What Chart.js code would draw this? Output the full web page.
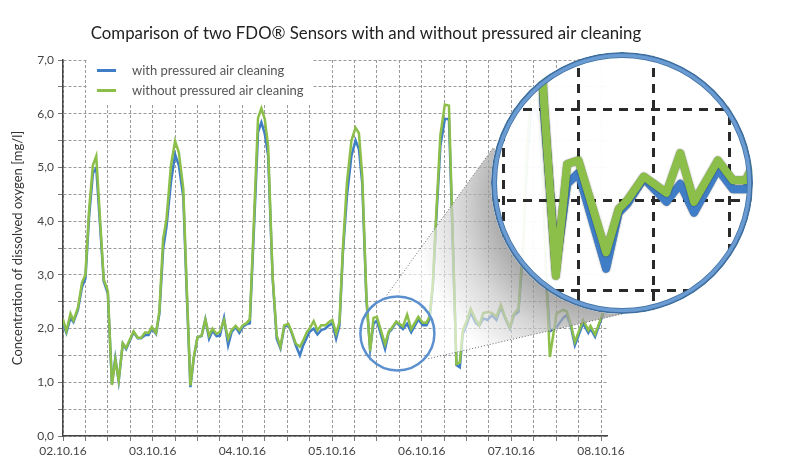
<!DOCTYPE html>
<html lang="en">
<head>
<meta charset="UTF-8">
<title>Comparison of two FDO Sensors</title>
<style>
    body { margin: 0; padding: 0; background: #fff; }
    #wrap { position: relative; width: 792px; height: 457px; }
    #main { position: absolute; left: 0; top: 0; }
    #lens {
        position: absolute; left: 491px; top: 52px;
        width: 262px; height: 262px;
        border-radius: 50%; overflow: hidden;
        background: rgba(255, 255, 255, 0.94);
    }
</style>
<script src="https://cdn.jsdelivr.net/npm/chart.js"></script>
</head>
<body>
<div id="wrap">
    <canvas id="main" width="792" height="457"></canvas>
    <div id="lens"><canvas id="zoom" width="262" height="262"></canvas></div>
</div>
<script>
// texts
const chartTitle = 'Comparison of two FDO\u00AE Sensors with and without pressured air cleaning';
const yTitle = 'Concentration of dissolved oxygen [mg/l]';
const seriesNames = ['with pressured air cleaning', 'without pressured air cleaning'];
const dateLabels = ['02.10.16', '03.10.16', '04.10.16', '05.10.16', '06.10.16', '07.10.16', '08.10.16'];

// hours since 02.10.16 00:00
const hours = [
    0, 0.9, 2.0, 2.8, 4.0, 5.1, 6.0, 7.0, 8.0, 8.9,
    9.8, 10.9, 12.0, 13.1, 14.0, 14.9, 16.0, 16.9, 17.9, 18.9,
    20.0, 20.9, 22.0, 22.9, 23.8, 24.9, 25.8, 26.8, 27.7, 28.9,
    30.0, 31.0, 32.2, 33.1, 34.1, 35.0, 36.0, 37.1, 38.1, 39.1,
    40.0, 41.1, 42.0, 43.1, 44.2, 45.1, 46.2, 47.2, 48.1, 49.1,
    50.0, 51.1, 52.2, 53.1, 54.0, 54.9, 56.1, 57.2, 58.2, 59.2,
    60.3, 61.2, 62.3, 63.4, 64.3, 65.3, 66.0, 67.1, 68.1, 69.1,
    70.2, 71.2, 72.1, 73.1, 74.0, 74.9, 76.0, 77.2, 78.3, 79.2,
    80.1, 81.2, 82.2, 83.1, 84.0, 86.2, 87.2, 87.9, 89.2, 91.0,
    92.1, 93.2, 95.1, 96.3, 97.3, 98.1, 99.0, 99.8, 101.0, 102.2,
    103.3, 104.2, 105.3, 106.2, 107.0, 108.2, 109.1, 110.5, 111.4, 112.5,
    113.6, 114.8, 116.0, 117.2, 118.3, 119.6, 120.7, 121.9, 123.1, 124.2,
    125.3, 126.4, 127.5, 128.5, 129.4, 130.3, 132.1, 133.9, 134.8, 135.9,
    137.0, 139.2, 140.6, 141.2, 142.4, 144.6
];

// dissolved oxygen [mg/l]
const withCleaning = [
    2.10, 1.92, 2.20, 2.12, 2.35, 2.78, 2.93, 4.10, 4.89, 4.99,
    4.05, 2.88, 2.65, 0.97, 1.45, 1.02, 1.72, 1.62, 1.78, 1.93,
    1.82, 1.82, 1.88, 1.88, 2.00, 1.90, 2.28, 3.48, 3.90, 4.73,
    5.24, 5.04, 4.45, 2.70, 0.91, 1.45, 1.84, 1.86, 2.17, 1.81,
    1.96, 1.86, 1.87, 2.20, 1.69, 1.93, 2.03, 1.92, 2.03, 2.08,
    2.10, 3.85, 5.66, 5.84, 5.63, 5.22, 2.95, 1.81, 1.63, 2.03,
    2.07, 1.92, 1.69, 1.50, 1.69, 1.84, 1.94, 2.00, 1.89, 1.97,
    2.00, 2.06, 2.10, 1.81, 2.06, 3.40, 4.47, 5.22, 5.50, 5.34,
    4.70, 2.55, 1.62, 2.09, 2.15, 1.62, 1.93, 1.98, 2.12, 1.99,
    2.09, 1.93, 2.17, 2.06, 2.06, 2.17, 2.80, 3.90, 5.40, 5.90,
    5.90, 3.90, 1.32, 1.28, 1.90, 2.10, 2.30, 2.10, 2.05, 2.19,
    2.16, 2.25, 2.16, 2.40, 2.20, 2.00, 2.25, 2.31, 3.40, 5.10,
    6.05, 6.10, 5.85, 4.60, 2.80, 1.95, 2.03, 2.20, 2.25, 2.05,
    1.69, 2.10, 1.92, 2.00, 1.85, 2.28
];
const withoutCleaning = [
    2.17, 1.95, 2.28, 2.15, 2.39, 2.86, 3.00, 4.23, 5.04, 5.21,
    4.17, 2.92, 2.70, 0.95, 1.42, 1.04, 1.73, 1.64, 1.80, 1.95,
    1.83, 1.83, 1.93, 1.92, 2.03, 1.92, 2.33, 3.67, 4.04, 5.04,
    5.49, 5.28, 4.60, 2.80, 0.94, 1.47, 1.84, 1.87, 2.17, 1.87,
    2.00, 1.90, 1.94, 2.16, 1.81, 1.97, 2.05, 1.97, 2.06, 2.10,
    2.17, 4.00, 5.92, 6.10, 5.90, 5.40, 2.97, 1.87, 1.66, 2.06,
    2.09, 1.94, 1.72, 1.66, 1.78, 1.94, 2.00, 2.14, 1.97, 2.06,
    2.06, 2.12, 2.16, 1.91, 2.12, 3.47, 4.72, 5.50, 5.74, 5.64,
    4.84, 2.60, 1.58, 2.20, 2.22, 1.71, 1.95, 2.00, 2.13, 2.04,
    2.26, 1.99, 2.22, 2.11, 2.11, 2.22, 2.84, 4.00, 5.60, 6.17,
    6.15, 3.97, 1.34, 1.37, 1.97, 2.16, 2.37, 2.16, 2.06, 2.29,
    2.31, 2.29, 2.22, 2.44, 2.22, 2.02, 2.28, 2.37, 3.50, 5.40,
    6.35, 6.40, 6.10, 4.80, 2.90, 1.47, 2.28, 2.35, 2.32, 2.09,
    1.75, 2.16, 1.97, 2.05, 1.89, 2.31
];

// magnified window (hours / mg/l) and the small circle it comes from
const zoomHours = [77.04, 97.89];
const zoomValues = [1.368, 2.821];
const lensSpot = { x: 89.5, y: 1.91 };

const blue = '#3f7dc6';
const green = '#8cbf49';
const font = 'Lato, "Open Sans", sans-serif';

function points(values) {
    return hours.map((h, i) => ({ x: h, y: values[i] }));
}

function gridTicks(step, from, to) {
    const out = [];
    for (let v = Math.ceil(from / step) * step; v <= to + 1e-9; v += step) out.push({ value: v });
    return out;
}

// cone between small circle and lens, legend, title
const decorations = {
    id: 'decorations',
    afterDatasetsDraw(chart) {
        const ctx = chart.ctx;
        const cx = chart.scales.x.getPixelForValue(lensSpot.x);
        const cy = chart.scales.y.getPixelForValue(lensSpot.y);
        const r = 37;
        const big = { x: 622, y: 183, r: 131 };
        const p1 = { x: 385, y: 297.7 }, p2 = { x: 493, y: 148 };
        const p3 = { x: 622, y: 314 }, p4 = { x: 428.3, y: 358.7 };
        const a4 = Math.atan2(p4.y - cy, p4.x - cx);
        const a1 = Math.atan2(p1.y - cy, p1.x - cx);

        ctx.save();
        ctx.beginPath();
        ctx.moveTo(p1.x, p1.y);
        ctx.lineTo(p2.x, p2.y);
        ctx.lineTo(big.x, big.y);
        ctx.lineTo(p3.x, p3.y);
        ctx.lineTo(p4.x, p4.y);
        ctx.arc(cx, cy, r, a4, a1, true);
        ctx.closePath();
        ctx.clip();
        // keep the lens itself out of the cone
        ctx.beginPath();
        ctx.rect(0, 0, chart.width, chart.height);
        ctx.arc(big.x, big.y, big.r - 1, 0, Math.PI * 2);
        ctx.clip('evenodd');
        ctx.fillStyle = 'rgba(255,255,255,0.62)';
        ctx.fillRect(0, 0, chart.width, chart.height);
        // soft shadow of the lens
        const sx = big.x - 20, sy = big.y + 20;
        const g = ctx.createRadialGradient(sx, sy, big.r - 25, sx, sy, big.r + 60);
        g.addColorStop(0, 'rgba(0,0,0,0.32)');
        g.addColorStop(0.4, 'rgba(0,0,0,0.16)');
        g.addColorStop(1, 'rgba(0,0,0,0)');
        ctx.fillStyle = g;
        ctx.fillRect(0, 0, chart.width, chart.height);
        ctx.restore();

        ctx.save();
        ctx.strokeStyle = '#444';
        ctx.lineWidth = 0.8;
        ctx.setLineDash([1, 2]);
        ctx.beginPath();
        ctx.moveTo(p1.x, p1.y); ctx.lineTo(p2.x, p2.y);
        ctx.moveTo(p4.x, p4.y); ctx.lineTo(p3.x, p3.y);
        ctx.stroke();
        ctx.setLineDash([]);
        ctx.strokeStyle = '#5b90cf';
        ctx.lineWidth = 2.5;
        ctx.beginPath();
        ctx.arc(cx, cy, r, 0, Math.PI * 2);
        ctx.stroke();
        ctx.restore();
    },
    afterDraw(chart) {
        const ctx = chart.ctx;
        ctx.save();
        // legend box
        ctx.fillStyle = '#fff';
        ctx.fillRect(87, 55, 226, 48);
        ctx.lineWidth = 3;
        [blue, green].forEach((c, i) => {
            const y = 70.5 + i * 20;
            ctx.strokeStyle = c;
            ctx.beginPath();
            ctx.moveTo(97, y); ctx.lineTo(116, y);
            ctx.stroke();
            ctx.fillStyle = '#555';
            ctx.font = '13px ' + font;
            ctx.textBaseline = 'middle';
            ctx.fillText(seriesNames[i], 132, y);
        });
        // title
        ctx.fillStyle = '#222';
        ctx.font = '16.8px ' + font;
        ctx.textAlign = 'center';
        ctx.textBaseline = 'middle';
        ctx.fillText(chartTitle, 366, 34);
        ctx.restore();
    }
};

new Chart(document.getElementById('main'), {
    type: 'line',
    data: {
        datasets: [
            { label: seriesNames[0], data: points(withCleaning), borderColor: blue, borderWidth: 2.5, order: 1 },
            { label: seriesNames[1], data: points(withoutCleaning), borderColor: green, borderWidth: 2.5, order: 0 }
        ]
    },
    options: {
        responsive: false,
        animation: false,
        layout: { padding: { top: 60, right: 185, left: 0, bottom: 0 } },
        elements: { point: { radius: 0 }, line: { tension: 0 } },
        plugins: { legend: { display: false }, tooltip: { enabled: false } },
        scales: {
            x: {
                type: 'linear', min: 0, max: 145.6,
                afterBuildTicks(scale) { scale.ticks = gridTicks(6, 0, 144); },
                afterFit(scale) { scale.height = 21; },
                grid: { color: '#9a9a9a', lineWidth: 1, tickLength: 5, tickColor: '#777' },
                border: { display: true, color: '#444', width: 1.5, dash: [3, 2] },
                ticks: {
                    autoSkip: false, maxRotation: 0, padding: 3,
                    color: '#444', font: { family: font, size: 12 },
                    callback: v => (v % 24 === 0 ? dateLabels[v / 24] : '')
                }
            },
            y: {
                min: 0, max: 7,
                afterBuildTicks(scale) { scale.ticks = gridTicks(0.5, 0, 7); },
                afterFit(scale) { scale.width = 63; },
                grid: { color: '#9a9a9a', lineWidth: 1, tickLength: 5, tickColor: '#777' },
                border: { display: true, color: '#444', width: 1.5, dash: [3, 2] },
                ticks: {
                    padding: 4, color: '#444', font: { family: font, size: 12 },
                    callback: v => (Number.isInteger(v) ? v.toFixed(1).replace('.', ',') : '')
                },
                title: {
                    display: true, text: yTitle, color: '#333',
                    font: { family: font, size: 13 }, padding: { top: 10, bottom: 0 }
                }
            }
        }
    },
    plugins: [decorations]
});

// magnified view
const outline = {
    id: 'outline',
    beforeDatasetDraw(chart) {
        chart.ctx.save();
        chart.ctx.shadowColor = 'rgba(0,0,0,0.6)';
        chart.ctx.shadowBlur = 1.5;
    },
    afterDatasetDraw(chart) { chart.ctx.restore(); },
    afterDraw(chart) {
        const ctx = chart.ctx;
        const c = chart.width / 2;
        ctx.save();
        ctx.strokeStyle = '#3f6f9f';
        ctx.lineWidth = 6;
        ctx.beginPath(); ctx.arc(c, c, c - 3, 0, Math.PI * 2); ctx.stroke();
        ctx.strokeStyle = '#6a9bd2';
        ctx.lineWidth = 3.5;
        ctx.beginPath(); ctx.arc(c, c, c - 3.5, 0, Math.PI * 2); ctx.stroke();
        ctx.restore();
    }
};

new Chart(document.getElementById('zoom'), {
    type: 'line',
    data: {
        datasets: [
            { data: points(withCleaning), borderColor: blue, borderWidth: 8, order: 1 },
            { data: points(withoutCleaning), borderColor: green, borderWidth: 8, order: 0 }
        ]
    },
    options: {
        responsive: false,
        animation: false,
        layout: { padding: 0 },
        elements: { point: { radius: 0 }, line: { tension: 0, borderJoinStyle: 'round' } },
        plugins: { legend: { display: false }, tooltip: { enabled: false } },
        scales: {
            x: {
                type: 'linear', min: zoomHours[0], max: zoomHours[1],
                afterBuildTicks(scale) { scale.ticks = gridTicks(6, zoomHours[0], zoomHours[1]); },
                afterFit(scale) { scale.height = 0; },
                grid: { color: '#2a2a2a', lineWidth: 3, drawTicks: false },
                border: { display: false, dash: [9, 7] },
                ticks: { display: false }
            },
            y: {
                min: zoomValues[0], max: zoomValues[1],
                afterBuildTicks(scale) { scale.ticks = gridTicks(0.5, zoomValues[0], zoomValues[1]); },
                afterFit(scale) { scale.width = 0; },
                grid: { color: '#2a2a2a', lineWidth: 3, drawTicks: false },
                border: { display: false, dash: [9, 7] },
                ticks: { display: false }
            }
        }
    },
    plugins: [outline]
});
</script>
</body>
</html>
